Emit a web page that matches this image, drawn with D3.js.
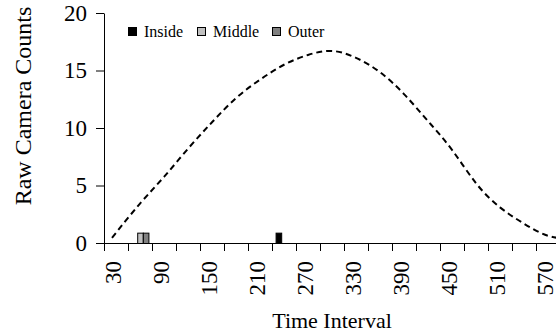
<!DOCTYPE html>
<html>
<head>
<meta charset="utf-8">
<script src="https://cdn.jsdelivr.net/npm/d3@7"></script>
<style>
  html, body { margin: 0; padding: 0; background: #fff; overflow: hidden; }
  svg { display: block; }
  text { font-family: "Liberation Serif", "Times New Roman", serif; fill: #000; }
</style>
</head>
<body>
<svg id="chart" width="556" height="333"></svg>
<script>
// Time intervals (categories on the x axis)
const timeIntervals = [30, 60, 90, 120, 150, 180, 210, 240, 270, 300, 330, 360, 390, 420, 450, 480, 510, 540, 570];
// Labelled intervals (every other category)
const tickLabels = [30, 90, 150, 210, 270, 330, 390, 450, 510, 570];
const yTicks = [0, 5, 10, 15, 20];

// Raw camera counts per zone
const insideCounts = [0, 0, 0, 0, 0, 0, 0, 0.9, 0, 0, 0, 0, 0, 0, 0, 0, 0, 0, 0];
const middleCounts = [0, 0.9, 0, 0, 0, 0, 0, 0, 0, 0, 0, 0, 0, 0, 0, 0, 0, 0, 0];
const outerCounts  = [0, 0.9, 0, 0, 0, 0, 0, 0, 0, 0, 0, 0, 0, 0, 0, 0, 0, 0, 0];

// Fitted expected counts (dashed curve)
const fitTimes  = [25, 60, 90, 120, 150, 180, 210, 240, 270, 300, 330, 360, 390, 420, 450, 480, 510, 540, 570, 600];
const fitCounts = [0.45, 3.43, 5.75, 8.2, 10.5, 12.6, 14.2, 15.5, 16.35, 16.7, 16.1, 14.85, 12.95, 10.6, 8.1, 5.2, 3.1, 1.68, 0.63, 0.35];

const zones = ["Inside", "Middle", "Outer"];
const zoneColors = { Inside: "#000000", Middle: "#c0c0c0", Outer: "#808080" };
const zoneCounts = { Inside: insideCounts, Middle: middleCounts, Outer: outerCounts };

const svg = d3.select("#chart");

const x = d3.scaleBand().domain(timeIntervals).range([104, 560]).paddingInner(0).paddingOuter(0);
const xZone = d3.scaleBand().domain(zones).range([0, x.bandwidth()]).paddingInner(0).paddingOuter(0.64);
const y = d3.scaleLinear().domain([0, 20]).range([243, 13]);
const xFit = d3.scaleLinear()
  .domain([30, 570])
  .range([x(30) + x.bandwidth() / 2, x(570) + x.bandwidth() / 2]);

// Bars
const barData = [];
zones.forEach(z => {
  zoneCounts[z].forEach((v, i) => {
    if (v > 0) barData.push({ zone: z, t: timeIntervals[i], v });
  });
});

svg.append("g").selectAll("rect")
  .data(barData)
  .join("rect")
  .attr("x", d => x(d.t) + xZone(d.zone) + 0.5)
  .attr("y", d => y(d.v) + 0.5)
  .attr("width", xZone.bandwidth())
  .attr("height", d => y(0) - y(d.v))
  .attr("fill", d => zoneColors[d.zone])
  .attr("stroke", "#000")
  .attr("stroke-width", 1);

// Dashed fitted curve
const line = d3.line()
  .x((d, i) => xFit(fitTimes[i]))
  .y(d => y(d))
  .curve(d3.curveNatural);

svg.append("path")
  .datum(fitCounts)
  .attr("d", line)
  .attr("fill", "none")
  .attr("stroke", "#000")
  .attr("stroke-width", 2)
  .attr("stroke-dasharray", "6,4");

// Y axis
const yAxis = svg.append("g")
  .attr("transform", "translate(104,0)")
  .call(d3.axisLeft(y).tickValues(yTicks).tickSize(8).tickPadding(9).tickSizeOuter(0));
yAxis.select(".domain").attr("stroke", "#000");
yAxis.selectAll(".tick line").attr("stroke", "#000");
yAxis.selectAll("text").attr("font-size", 23).attr("font-family", "Liberation Serif, serif").attr("fill", "#000");

// X axis: ticks at category boundaries, labels at every other category
const xAxis = svg.append("g").attr("transform", `translate(0,${y(0)})`);
xAxis.call(
  d3.axisBottom(d3.scaleLinear().domain([0, timeIntervals.length]).range(x.range()))
    .tickValues(d3.range(0, timeIntervals.length))
    .tickSize(8)
    .tickSizeOuter(0)
    .tickFormat("")
);
xAxis.select(".domain").attr("stroke", "#000");
xAxis.selectAll(".tick line").attr("stroke", "#000");

const xLabels = svg.append("g").attr("transform", `translate(0,${y(0)})`);
xLabels.call(
  d3.axisBottom(x).tickValues(tickLabels).tickSize(0).tickSizeOuter(0)
);
xLabels.select(".domain").remove();
xLabels.selectAll("text")
  .attr("font-size", 23)
  .attr("font-family", "Liberation Serif, serif")
  .attr("fill", "#000")
  .attr("text-anchor", "end")
  .attr("transform", "rotate(-90)")
  .attr("x", -18)
  .attr("y", -2)
  .attr("dy", "0.3em");

// Axis titles
svg.append("text")
  .attr("transform", "translate(31,106) rotate(-90)")
  .attr("text-anchor", "middle")
  .attr("font-size", 24)
  .text("Raw Camera Counts");

svg.append("text")
  .attr("x", 332)
  .attr("y", 328)
  .attr("text-anchor", "middle")
  .attr("font-size", 22)
  .text("Time Interval");

// Legend
const legendX = [128, 197, 272];
const legend = svg.append("g");
zones.forEach((z, i) => {
  legend.append("rect")
    .attr("x", legendX[i] + 0.5)
    .attr("y", 27.5)
    .attr("width", 8)
    .attr("height", 8)
    .attr("fill", zoneColors[z])
    .attr("stroke", "#000");
  legend.append("text")
    .attr("x", legendX[i] + 16)
    .attr("y", 36.5)
    .attr("font-size", 16)
    .text(z);
});
</script>
</body>
</html>
